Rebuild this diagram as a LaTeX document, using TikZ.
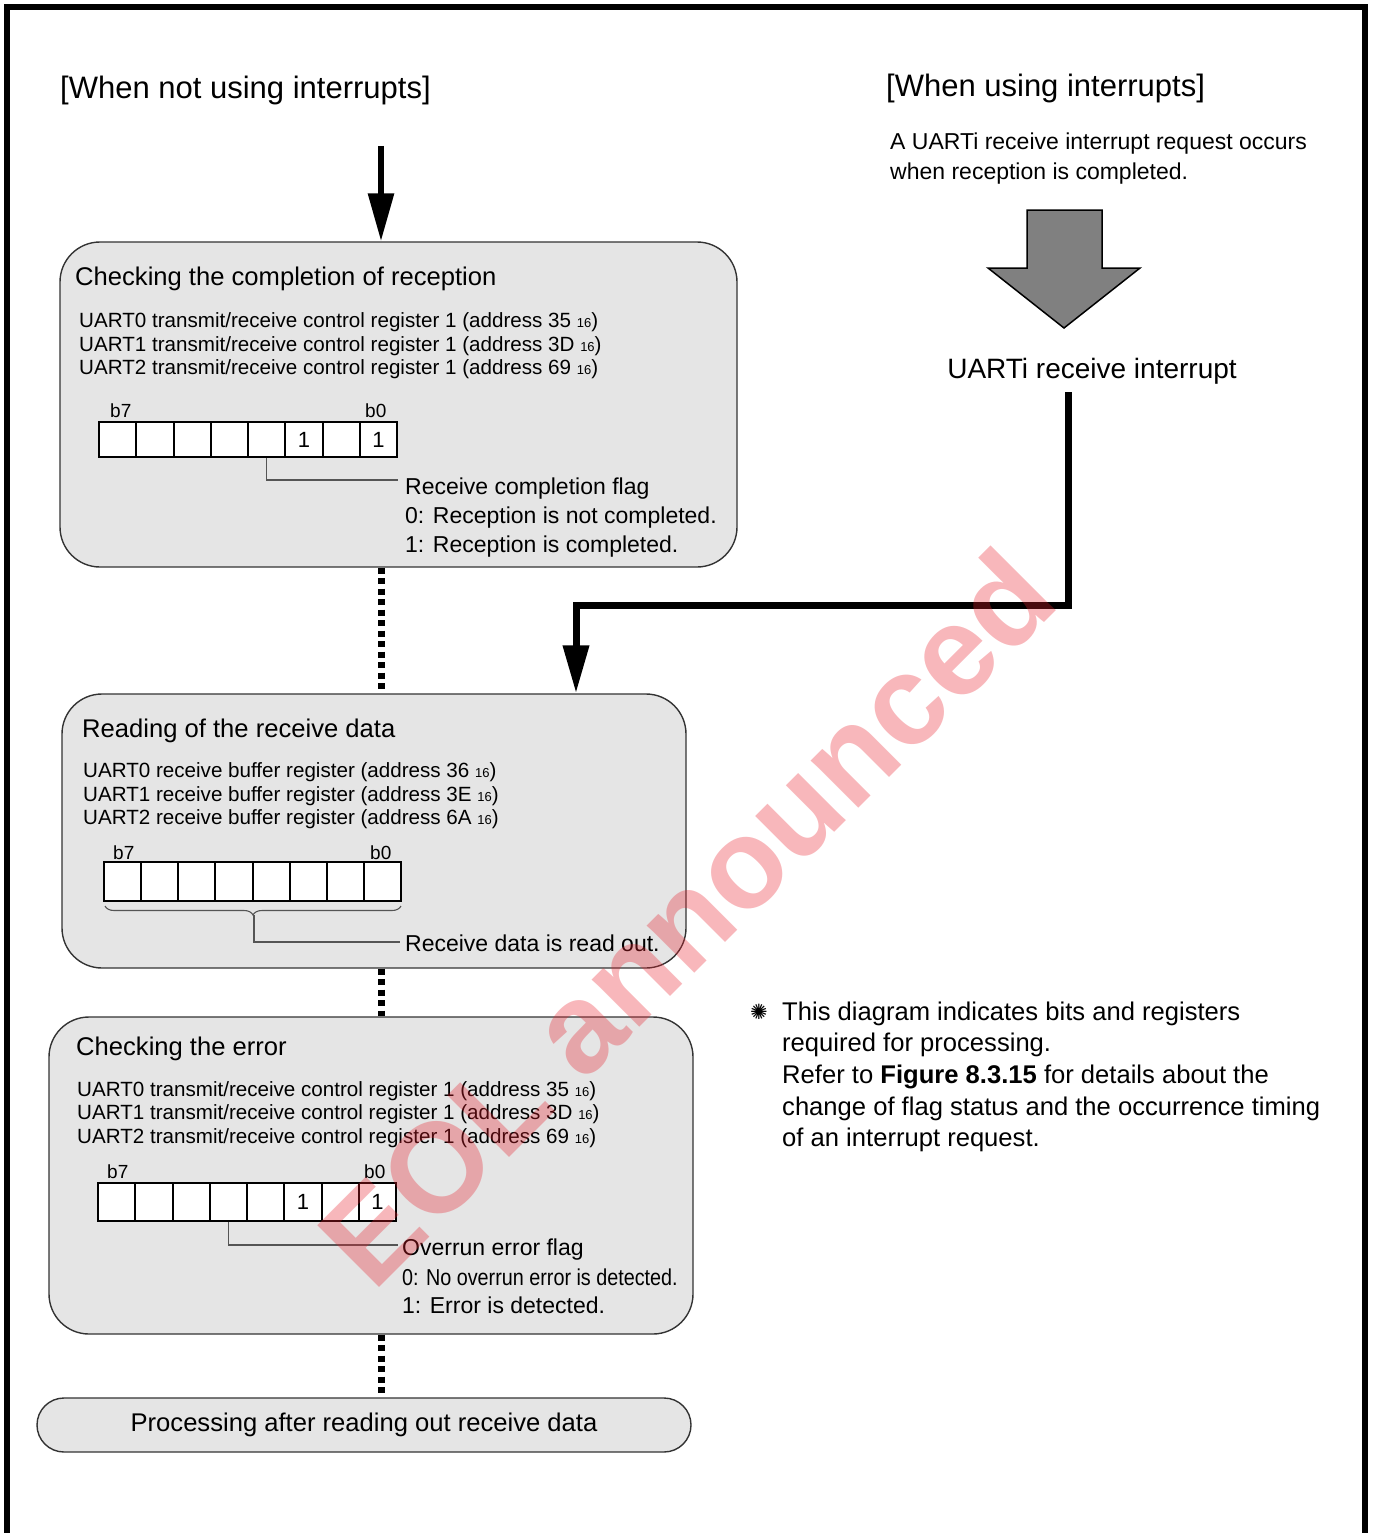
\documentclass[tikz,border=0pt]{standalone}
\usepackage{fontspec}
\usepackage{graphicx}
\setmainfont{Liberation Sans}
\newfontfamily\symfont{DejaVu Sans}
\usetikzlibrary{arrows.meta,decorations.pathreplacing,calc}
\newcommand\fs[1]{\fontsize{#1}{#1}\selectfont}
\newcommand\hsub[1]{{\fontsize{13}{13}\selectfont #1}}
\definecolor{boxfill}{HTML}{E5E5E5}
\definecolor{boxline}{HTML}{333333}
\definecolor{leadgray}{HTML}{555555}
\definecolor{arrowgray}{HTML}{808080}
\definecolor{wmred}{HTML}{E8202C}
\begin{document}
\begin{tikzpicture}[x=1pt,y=-1pt,
  box/.style={draw=boxline, fill=boxfill, line width=1.4pt, rounded corners=40pt, inner sep=0},
  cell/.style={draw=black, fill=white, line width=2pt, minimum width=37.25pt, inner sep=0, font=\fs{22}},
  t/.style={inner sep=0, anchor=base west},
  head/.style={t, font=\fs{31}},
  title/.style={t, font=\fs{25.6}},
  reg/.style={t, font=\fs{20.6}},
  lab/.style={t, font=\fs{23}},
  bitlab/.style={t, font=\fs{19}},
  note/.style={t, font=\fs{25.6}},
  thickarrow/.style={line width=6pt, -{Triangle[length=48pt,width=25pt]}},
  dots/.style={line width=7pt, dash pattern=on 6pt off 4.5pt},
  leader/.style={draw=leadgray, line width=1.3pt}
]
\useasboundingbox (0,0) rectangle (1375,1533);
% frame
\coordinate (fbl) at (6.5,1533);
\coordinate (ftl) at (6.5,7.5);
\coordinate (ftr) at (1365,7.5);
\coordinate (fbr) at (1365,1533);
\draw[line width=6pt, line join=miter] (fbl) -- (ftl) -- (ftr) -- (fbr);

% headings
\node[head] (hl) at (60,99) {[When not using interrupts]};
\node[head] (hr) at (886,97) {[When using interrupts]};
\node[lab] (intro1) at (890,150) {A UARTi receive interrupt request occurs};
\node[lab] (intro2) at (890,179) {when reception is completed.};

% big gray arrow
\draw[fill=arrowgray, draw=black, line width=1.5pt, line join=miter]
  (1027,210) -- (1102,210) -- (1102,268) -- (1140,268) -- (1064,328) -- (988,268) -- (1027,268) -- cycle;
\node[inner sep=0, anchor=base, font=\fs{28}] (ui) at (1092,378) {UARTi receive interrupt};

% boxes
\node[box, minimum width=677pt, minimum height=325pt] (b1) at (398.5,404.5) {};
\node[box, minimum width=624pt, minimum height=274pt] (b2) at (374,831) {};
\node[box, minimum width=644pt, minimum height=317pt] (b3) at (371,1175.5) {};
\node[box, minimum width=654pt, minimum height=54pt, rounded corners=27pt, font=\fs{25.6}] (b4) at (364,1425) {Processing after reading out receive data};

% connectors
\coordinate (spine) at (381,0);
\coordinate (topstart) at (381,146);
\draw[thickarrow] (topstart) -- (b1.north -| topstart);
\draw[dots] (b1.south -| spine) -- (b2.north -| spine);
\draw[dots] (b2.south -| spine) -- (b3.north -| spine);
\draw[dots] (b3.south -| spine) -- (b4.north -| spine);
\coordinate (p0) at (1068,392);
\coordinate (bend) at (576,605);
\draw[thickarrow, line width=7pt, line join=miter] (p0) -- (p0 |- bend) -- (bend) -- (b2.north -| bend);

% ---- box 1
\node[title] (t1) at (75,285) {Checking the completion of reception};
\node[reg] (r1a) at (79,327.5) {UART0 transmit/receive control register 1 (address 35 \hsub{16})};
\node[reg] (r1b) at (79,351.5) {UART1 transmit/receive control register 1 (address 3D \hsub{16})};
\node[reg] (r1c) at (79,374.5) {UART2 transmit/receive control register 1 (address 69 \hsub{16})};
\node[bitlab] (b7a) at (110,417) {b7};
\node[bitlab] (b0a) at (365,417) {b0};
\foreach \i/\v in {0/,1/,2/,3/,4/,5/1,6/,7/1}
  \node[cell, minimum height=35pt] (c1-\i) at ({99+37.25*(\i+0.5)},439.5) {\v};
\coordinate (e1) at (398,480);
\draw[leader] (c1-4.south) |- (e1);
\node[lab] (f1a) at (405,494) {Receive completion flag};
\node[lab] (f1b) at (405,523) {0: Reception is not completed.};
\node[lab] (f1c) at (405,552) {1: Reception is completed.};

% ---- box 2
\node[title] (t2) at (82,737) {Reading of the receive data};
\node[reg] (r2a) at (83,777.5) {UART0 receive buffer register (address 36 \hsub{16})};
\node[reg] (r2b) at (83,801.5) {UART1 receive buffer register (address 3E \hsub{16})};
\node[reg] (r2c) at (83,824.5) {UART2 receive buffer register (address 6A \hsub{16})};
\node[bitlab] (b7b) at (113,859) {b7};
\node[bitlab] (b0b) at (370,859) {b0};
\foreach \i in {0,...,7}
  \node[cell, minimum width=37.125pt, minimum height=39pt] (c2-\i) at ({104+37.125*(\i+0.5)},881.5) {};
\coordinate (brl) at (105,906);
\coordinate (brr) at (401,906);
\draw[leader, line width=1.1pt, decorate, decoration={brace, mirror, amplitude=9pt}] (brl) -- (brr);
\coordinate (bt) at (254,915);
\coordinate (e2) at (400,942);
\draw[leader] (bt) |- (e2);
\node[lab] (f2a) at (405,951) {Receive data is read out.};

% ---- box 3
\node[title] (t3) at (76,1055) {Checking the error};
\node[reg] (r3a) at (77,1096.5) {UART0 transmit/receive control register 1 (address 35 \hsub{16})};
\node[reg] (r3b) at (77,1119.5) {UART1 transmit/receive control register 1 (address 3D \hsub{16})};
\node[reg] (r3c) at (77,1143.5) {UART2 transmit/receive control register 1 (address 69 \hsub{16})};
\node[bitlab] (b7c) at (107,1178) {b7};
\node[bitlab] (b0c) at (364,1178) {b0};
\foreach \i/\v in {0/,1/,2/,3/,4/,5/1,6/,7/1}
  \node[cell, minimum height=38pt] (c3-\i) at ({98+37.25*(\i+0.5)},1202) {\v};
\coordinate (e3) at (398,1245);
\draw[leader] (c3-3.south) |- (e3);
\node[lab] (f3a) at (402,1255) {Overrun error flag};
\node[lab] (f3b) at (402,1285) {\scalebox{0.86}[1]{0: No overrun error is detected.}};
\node[lab] (f3c) at (402,1313) {1: Error is detected.};

% ---- note
\node[t, font=\symfont\fs{21}] (star) at (750,1019) {✺};
\node[note] (n1) at (782,1020) {This diagram indicates bits and registers};
\node[note] (n2) at (782,1051) {required for processing.};
\node[note] (n3) at (782,1083) {Refer to \textbf{Figure 8.3.15} for details about the};
\node[note] (n4) at (782,1115) {change of flag status and the occurrence timing};
\node[note] (n5) at (782,1146) {of an interrupt request.};

% ---- watermark
\node[inner sep=0, rotate=45, text=wmred, text opacity=0.32, font=\fs{127}\bfseries] (wm) at (686,917) {EOL announced};
\end{tikzpicture}
\end{document}
